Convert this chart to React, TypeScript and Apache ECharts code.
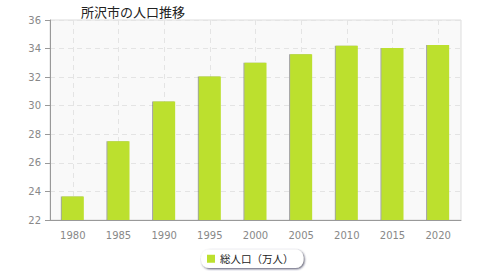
import React, { useEffect, useRef } from "react";
import * as echarts from "echarts";

const years = ["1980", "1985", "1990", "1995", "2000", "2005", "2010", "2015", "2020"];
const population = [23.65, 27.52, 30.3, 32.04, 33.01, 33.61, 34.19, 34.04, 34.25];
const seriesName = "総人口（万人）";
const titleText = "所沢市の人口推移";

export default function App() {
  const ref = useRef<HTMLDivElement>(null);
  useEffect(() => {
    if (!ref.current) return;
    const chart = echarts.init(ref.current, null, { renderer: "svg" });
    chart.setOption({
      animation: false,
      title: {
        text: titleText,
        left: 76,
        top: 0,
        textStyle: { fontSize: 13, fontWeight: "normal", color: "#222", fontFamily: "Noto Sans CJK JP" },
      },
      grid: {
        left: 50,
        right: 19,
        top: 20,
        bottom: 60,
        show: true,
        backgroundColor: "#f9f9f9",
        borderColor: "#dddddd",
        borderWidth: 1,
      },
      legend: {
        data: [seriesName],
        bottom: 12,
        left: 201,
        itemWidth: 8,
        itemHeight: 8,
        itemGap: 6,
        icon: "rect",
        backgroundColor: "#ffffff",
        borderRadius: 8,
        borderWidth: 0,
        padding: [4, 10, 4, 6],
        shadowColor: "rgba(40,40,70,0.8)",
        shadowBlur: 2,
        shadowOffsetX: 1,
        shadowOffsetY: 1,
        textStyle: { fontSize: 10.5, color: "#222", fontFamily: "Noto Sans CJK JP" },
      },
      xAxis: {
        type: "category",
        data: years,
        boundaryGap: true,
        axisLine: { lineStyle: { color: "#999999" } },
        axisTick: { alignWithLabel: true, length: 4, lineStyle: { color: "#999999" } },
        axisLabel: { color: "#888888", fontSize: 10, margin: 10, fontFamily: "DejaVu Sans" },
        splitLine: { show: true, alignWithLabel: true, lineStyle: { color: "#e4e4e4", type: [5, 4] } },
      },
      yAxis: {
        type: "value",
        min: 22,
        max: 36,
        interval: 2,
        axisLine: { show: true, lineStyle: { color: "#999999" } },
        axisTick: { show: true, length: 5, lineStyle: { color: "#999999" } },
        axisLabel: { color: "#888888", fontSize: 10, margin: 9, fontFamily: "DejaVu Sans" },
        splitLine: { show: true, lineStyle: { color: "#e4e4e4", type: [5, 4] } },
      },
      series: [
        {
          name: seriesName,
          type: "bar",
          data: population,
          barWidth: 22,
          itemStyle: {
            color: "#bce02e",
            shadowColor: "rgba(90,90,90,0.6)",
            shadowBlur: 0,
            shadowOffsetX: -1,
            shadowOffsetY: 0,
          },
        },
      ],
    });
    return () => chart.dispose();
  }, []);
  return <div ref={ref} style={{ width: 480, height: 280, position: "absolute", left: 0, top: 0 }} />;
}
